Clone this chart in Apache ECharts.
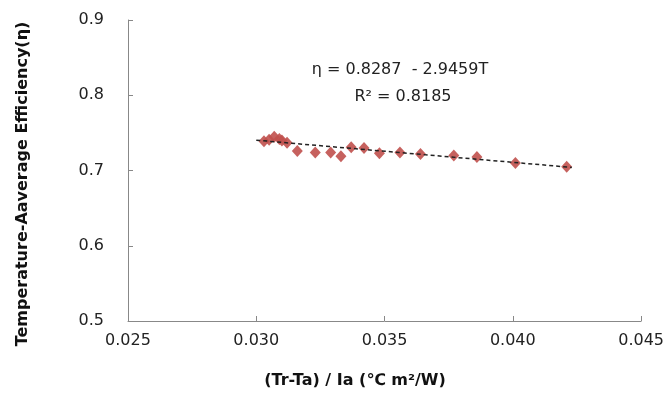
<!DOCTYPE html>
<html>
<head>
<meta charset="utf-8">
<script src="https://cdn.jsdelivr.net/npm/echarts@6/dist/echarts.min.js"></script>
<style>html,body{margin:0;padding:0;background:#fff;}#c{width:667px;height:404px;}</style>
</head>
<body>
<div id="c"></div>
<script>
// Measured data (x = (Tr-Ta)/Ia, y = efficiency)
var xVals = [0.0303, 0.0305, 0.0307, 0.0309, 0.0310, 0.0312, 0.0316, 0.0323, 0.0329, 0.0333, 0.0337, 0.0342, 0.0348, 0.0356, 0.0364, 0.0377, 0.0386, 0.0401, 0.0421];
var yVals = [0.739, 0.741, 0.745, 0.742, 0.740, 0.737, 0.726, 0.724, 0.724, 0.719, 0.731, 0.730, 0.723, 0.724, 0.722, 0.720, 0.718, 0.710, 0.705];
// Linear trendline endpoints
var trendX = [0.0300, 0.0423];
var trendY = [0.7403, 0.7041];
// Axis ticks
var xTicks = { min: 0.025, max: 0.045, interval: 0.005 };
var yTicks = { min: 0.5, max: 0.9, interval: 0.1 };
var eqText = 'η = 0.8287  - 2.9459T';
var r2Text = 'R² = 0.8185';
var xTitle = '(Tr-Ta) / Ia (℃ m²/W)';
var yTitle = 'Temperature-Aaverage Efficiency(η)';

var pts = xVals.map(function (x, i) { return [x, yVals[i]]; });
var trend = trendX.map(function (x, i) { return [x, trendY[i]]; });

var chart = echarts.init(document.getElementById('c'), null, { renderer: 'canvas' });
var tickFont = { fontFamily: 'DejaVu Sans', fontSize: 16, color: '#222' };
chart.setOption({
  animation: false,
  backgroundColor: '#fff',
  grid: { left: 128, right: 24, top: 20, bottom: 83, containLabel: false },
  xAxis: {
    type: 'value', min: xTicks.min, max: xTicks.max, interval: xTicks.interval,
    axisLine: { lineStyle: { color: '#888', width: 1 } },
    axisTick: { inside: true, length: 5, lineStyle: { color: '#888' } },
    splitLine: { show: false },
    axisLabel: Object.assign({ margin: 12, formatter: function (v) { return v.toFixed(3); } }, tickFont)
  },
  yAxis: {
    type: 'value', min: yTicks.min, max: yTicks.max, interval: yTicks.interval,
    axisLine: { show: true, lineStyle: { color: '#888', width: 1 } },
    axisTick: { show: true, inside: true, length: 5, lineStyle: { color: '#888' } },
    splitLine: { show: false },
    axisLabel: Object.assign({ margin: 24, formatter: function (v) { return v.toFixed(1); } }, tickFont)
  },
  series: [
    {
      type: 'line', data: trend, symbol: 'none', z: 3,
      lineStyle: { color: '#222', width: 1.5, type: [4, 3] }
    },
    {
      type: 'scatter', data: pts, symbol: 'diamond', symbolSize: [11, 12], z: 2,
      itemStyle: { color: '#C0504D', opacity: 0.9 }
    }
  ],
  graphic: [
    { type: 'text', x: 400, y: 70, style: { text: eqText, fontFamily: 'DejaVu Sans', fontSize: 16, fill: '#222', align: 'center', verticalAlign: 'middle' } },
    { type: 'text', x: 403, y: 97, style: { text: r2Text, fontFamily: 'DejaVu Sans', fontSize: 16, fill: '#222', align: 'center', verticalAlign: 'middle' } },
    { type: 'text', x: 355, y: 381, style: { text: xTitle, fontFamily: 'DejaVu Sans', fontWeight: 'bold', fontSize: 16, fill: '#111', align: 'center', verticalAlign: 'middle' } },
    { type: 'text', x: 23, y: 184, rotation: Math.PI / 2, style: { text: yTitle, fontFamily: 'DejaVu Sans', fontWeight: 'bold', fontSize: 16, fill: '#111', align: 'center', verticalAlign: 'middle' } }
  ]
});
</script>
</body>
</html>
